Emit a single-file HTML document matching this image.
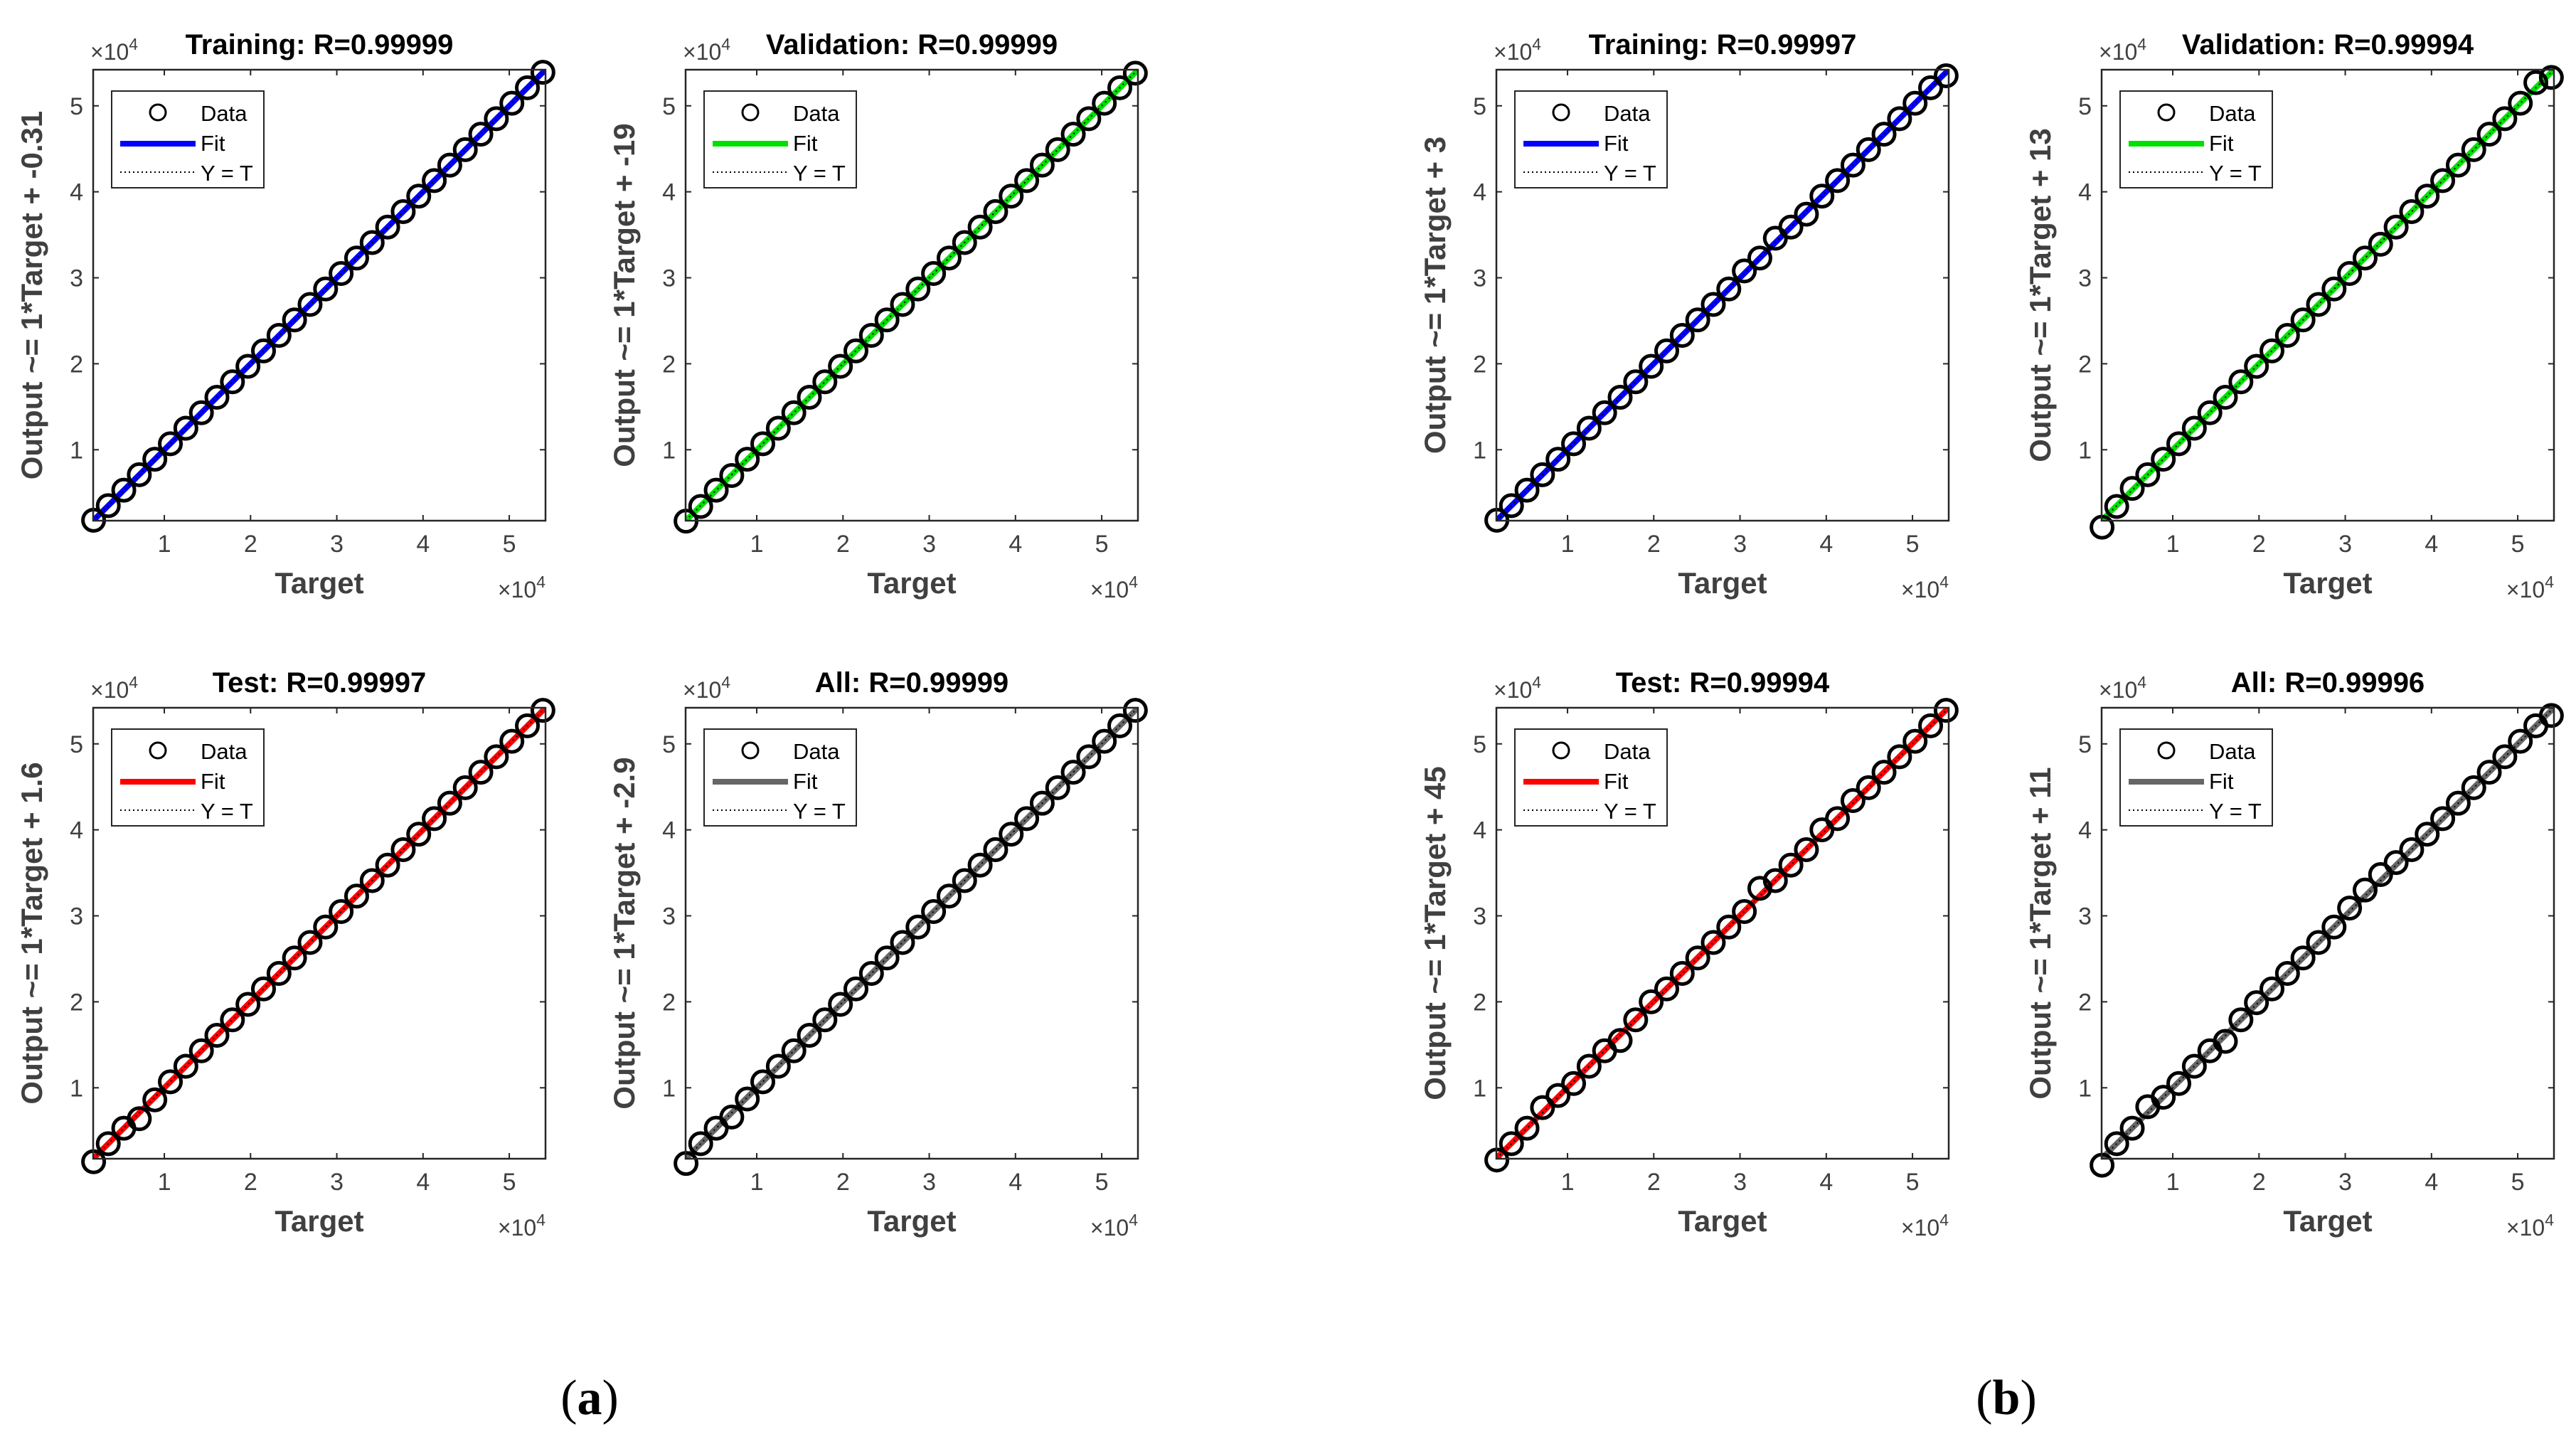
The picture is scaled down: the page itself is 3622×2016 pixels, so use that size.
<!DOCTYPE html>
<html><head><meta charset="utf-8"><style>
html,body{margin:0;padding:0;background:#fff;}
svg{display:block;}
text{font-family:"Liberation Sans",Arial,sans-serif;}
</style></head>
<body>
<svg id="fig" width="3622" height="2016" viewBox="0 0 3622 2016" xmlns="http://www.w3.org/2000/svg">
<rect width="3622" height="2016" fill="#fff"/>
<text x="829" y="1988" style="font-family:'Liberation Serif',serif" font-size="70" text-anchor="middle">(<tspan font-weight="bold">a</tspan>)</text>
<text x="2821" y="1988" style="font-family:'Liberation Serif',serif" font-size="70" text-anchor="middle">(<tspan font-weight="bold">b</tspan>)</text>
</svg>
<script>
// shared data
const targets = [1800,3500,5300,7100,8900,10700,12500,14300,16100,17900,19700,21500,23300,25100,26900,28700,30500,32300,34100,35900,37700,39500,41300,43100,44900,46700,48500,50300,52100,53900];
const outATrain = [1800,3500,5300,7100,8900,10700,12500,14300,16100,17900,19700,21500,23300,25100,26900,28700,30500,32300,34100,35900,37700,39500,41300,43100,44900,46700,48500,50300,52100,53900];
const outAVal   = [1700,3400,5300,7000,8900,10700,12500,14300,16100,17900,19700,21500,23300,25100,26900,28700,30500,32300,34100,35900,37700,39500,41300,43100,44900,46700,48500,50300,52100,53800];
const outATest  = [1400,3500,5300,6400,8600,10700,12500,14300,16100,17900,19700,21500,23300,25100,26900,28700,30500,32300,34100,35900,37700,39500,41300,43100,44900,46700,48500,50300,52100,53900];
const outAAll   = [1200,3500,5300,6600,8700,10700,12500,14300,16100,17900,19700,21500,23300,25100,26900,28700,30500,32300,34100,35900,37700,39500,41300,43100,44900,46700,48500,50300,52100,53900];
const outBTrain = [1800,3500,5300,7100,8900,10700,12500,14300,16100,17900,19700,21500,23300,25100,26900,28700,30800,32300,34600,35900,37400,39500,41300,43100,44900,46700,48500,50300,52100,53500];
const outBVal   = [1000,3400,5500,7100,8900,10700,12500,14300,16100,17900,19700,21500,23300,25100,26900,28700,30500,32300,33900,35900,37700,39500,41300,43100,44900,46700,48500,50300,52700,53300];
const outBTest  = [1600,3500,5300,7700,9100,10500,12500,14300,15500,17900,20000,21500,23300,25100,26900,28700,30500,33200,34100,35900,37700,40000,41300,43400,44900,46700,48500,50300,52100,53900];
const outBAll   = [1000,3500,5300,7800,8900,10500,12500,14300,15400,17900,19900,21500,23300,25100,26900,28700,30900,33000,34800,36200,37700,39500,41300,43100,44900,46700,48500,50300,52100,53300];
const xTicks = [10000,20000,30000,40000,50000];
const xTickLabels = ["1","2","3","4","5"];
const titles = ["Training: R=0.99999","Validation: R=0.99999","Test: R=0.99997","All: R=0.99999","Training: R=0.99997","Validation: R=0.99994","Test: R=0.99994","All: R=0.99996"];
const intercepts = [-0.31,-19,1.6,-2.9,3,13,45,11];
const interceptLabels = ["-0.31","-19","1.6","-2.9","3","13","45","11"];
const fitColors = ["#0000ff","#00e000","#ff0000","#666666","#0000ff","#00e000","#ff0000","#666666"];
const outputs = [outATrain,outAVal,outATest,outAAll,outBTrain,outBVal,outBTest,outBAll];
const lefts = [131,964,131,964,2104,2955,2104,2955];
const tops = [98,98,995,995,98,98,995,995];
const panelNames = ["a-training","a-validation","a-test","a-all","b-training","b-validation","b-test","b-all"];

const NS="http://www.w3.org/2000/svg";
const svg=document.getElementById('fig');
const W=636,H=634,DMIN=1750,DMAX=54200;
function mk(tag,attrs,parent){const e=document.createElementNS(NS,tag);for(const k in attrs)e.setAttribute(k,attrs[k]);(parent||svg).appendChild(e);return e;}

for(let p=0;p<8;p++){
  const L=lefts[p],T=tops[p];
  const sx=v=>L+(v-DMIN)/(DMAX-DMIN)*W;
  const sy=v=>T+H-(v-DMIN)/(DMAX-DMIN)*H;
  const g=mk('g',{});
  
  
  const clipId='clip'+p;
  const cp=mk('clipPath',{id:clipId},g);mk('rect',{x:L,y:T,width:W,height:H},cp);
  const t=mk('text',{x:L+W/2,y:T-22,'font-size':40,'font-weight':'bold','text-anchor':'middle',fill:'#000'},g);
  t.textContent=titles[p];
  
  
  const e1=mk('text',{x:L-4,y:T-14,'font-size':32,fill:'#404040'},g);
  e1.innerHTML='×10<tspan dy="-14" font-size="23">4</tspan>';
  
  
  const e2=mk('text',{x:L+W,y:T+H+108,'font-size':32,fill:'#404040','text-anchor':'end'},g);
  e2.innerHTML='×10<tspan dy="-14" font-size="23">4</tspan>';
  
  
  for(let i=0;i<xTicks.length;i++){
    const x=sx(xTicks[i]),y=sy(xTicks[i]);
    mk('line',{x1:x,x2:x,y1:T+H,y2:T+H-8,stroke:'#262626','stroke-width':2},g);
    mk('line',{x1:x,x2:x,y1:T,y2:T+8,stroke:'#262626','stroke-width':2},g);
    mk('line',{x1:L,x2:L+8,y1:y,y2:y,stroke:'#262626','stroke-width':2},g);
    mk('line',{x1:L+W,x2:L+W-8,y1:y,y2:y,stroke:'#262626','stroke-width':2},g);
    const xl=mk('text',{x:x,y:T+H+44,'font-size':34,fill:'#404040','text-anchor':'middle'},g);
    xl.textContent=xTickLabels[i];
    
    
    const yl=mk('text',{x:L-14,y:y+12,'font-size':34,fill:'#404040','text-anchor':'end'},g);
    yl.textContent=xTickLabels[i];
    
    
  }
  const xt=mk('text',{x:L+W/2,y:T+H+102,'font-size':42,'font-weight':'bold',fill:'#404040','text-anchor':'middle'},g);
  xt.textContent='Target';
  
  
  const yt=mk('text',{x:0,y:0,'font-size':42,'font-weight':'bold',fill:'#404040','text-anchor':'middle',transform:`translate(${L-72},${T+H/2}) rotate(-90)`},g);
  yt.textContent='Output ~= 1*Target + '+interceptLabels[p];
  
  
  const pg=mk('g',{'clip-path':'url(#'+clipId+')'},g);
  const fit=mk('line',{x1:sx(DMIN),y1:sy(DMIN+intercepts[p]),x2:sx(DMAX),y2:sy(DMAX+intercepts[p]),stroke:fitColors[p],'stroke-width':8},pg);
  
  
  const yeq=mk('line',{x1:sx(DMIN),y1:sy(DMIN),x2:sx(DMAX),y2:sy(DMAX),stroke:'#000','stroke-width':2,'stroke-dasharray':'2,5'},pg);
  
  
  const out=outputs[p];
  for(let i=0;i<targets.length;i++){
    const c=mk('circle',{cx:sx(targets[i]),cy:sy(out[i]),r:15,fill:'none',stroke:'#000','stroke-width':5},g);
    
    
  }
  const box=mk('rect',{x:L,y:T,width:W,height:H,fill:'none',stroke:'#262626','stroke-width':2.5},g);
  
  
  const lg=mk('g',{},g);
  
  
  const lx=L+26,ly=T+30;
  mk('rect',{x:lx,y:ly,width:214,height:136,fill:'#fff',stroke:'#262626','stroke-width':2},lg);
  mk('circle',{cx:lx+65,cy:ly+30,r:11,fill:'none',stroke:'#000','stroke-width':3},lg);
  mk('line',{x1:lx+12,x2:lx+118,y1:ly+74,y2:ly+74,stroke:fitColors[p],'stroke-width':8},lg);
  mk('line',{x1:lx+12,x2:lx+118,y1:ly+114,y2:ly+114,stroke:'#000','stroke-width':2,'stroke-dasharray':'2,4'},lg);
  const labs=['Data','Fit','Y = T'];
  for(let k=0;k<3;k++){
    const tx=mk('text',{x:lx+125,y:ly+42+k*42,'font-size':31,fill:'#000'},lg);
    tx.textContent=labs[k];
    
    
  }
}
</script>
</body></html>
